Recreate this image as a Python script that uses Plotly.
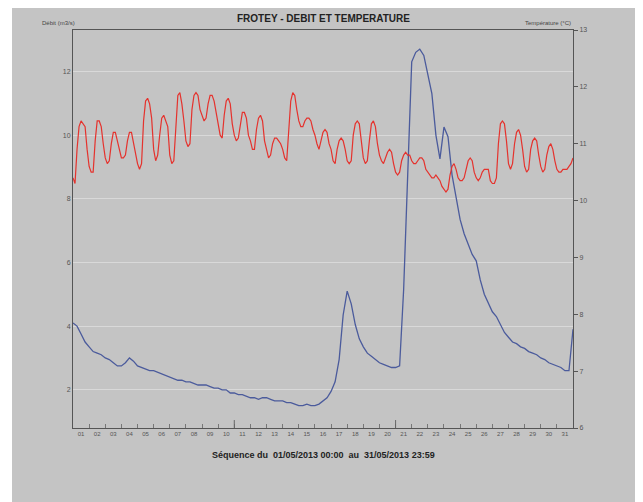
import plotly.graph_objects as go
import numpy as np

# Débit (m3/s), one value every 6 h from 01/05 00:00 to 01/06 00:00
debit = [
    4.1, 4.0, 3.75, 3.5,
    3.35, 3.2, 3.15, 3.1,
    3.0, 2.95, 2.85, 2.75,
    2.75, 2.85, 3.0, 2.9,
    2.75, 2.7, 2.65, 2.6,
    2.6, 2.55, 2.5, 2.45,
    2.4, 2.35, 2.3, 2.3,
    2.25, 2.25, 2.2, 2.15,
    2.15, 2.15, 2.1, 2.05,
    2.05, 2.0, 2.0, 1.9,
    1.9, 1.85, 1.85, 1.8,
    1.75, 1.75, 1.7, 1.75,
    1.75, 1.7, 1.65, 1.65,
    1.65, 1.6, 1.6, 1.55,
    1.5, 1.5, 1.55, 1.5,
    1.5, 1.55, 1.65, 1.75,
    1.95, 2.25, 2.95, 4.35,
    5.1, 4.7, 4.05, 3.6,
    3.35, 3.15, 3.05, 2.95,
    2.85, 2.8, 2.75, 2.7,
    2.7, 2.75, 5.15, 8.6,
    12.3, 12.6, 12.7, 12.5,
    11.9, 11.3, 10.0, 9.25,
    10.25, 9.95, 8.75, 8.0,
    7.35, 6.9, 6.55, 6.25,
    6.05, 5.45, 5.0, 4.7,
    4.45, 4.3, 4.05, 3.8,
    3.65, 3.5, 3.45, 3.35,
    3.3, 3.2, 3.15, 3.1,
    3.0, 2.95, 2.85, 2.8,
    2.75, 2.7, 2.6, 2.6,
    3.9,
]

# Température (°C), one value every 3 h
temperature = [
    10.4, 10.3, 10.9, 11.3, 11.4, 11.35, 11.3, 10.9,
    10.6, 10.5, 10.5, 11.05, 11.4, 11.4, 11.3, 11.0,
    10.75, 10.65, 10.7, 11.0, 11.2, 11.2, 11.05, 10.9,
    10.75, 10.75, 10.8, 11.05, 11.2, 11.2, 11.0, 10.85,
    10.65, 10.55, 10.65, 11.4, 11.75, 11.8, 11.7, 11.45,
    10.9, 10.7, 10.8, 11.15, 11.45, 11.5, 11.4, 11.3,
    10.8, 10.65, 10.7, 11.4, 11.85, 11.9, 11.7, 11.4,
    11.05, 10.95, 11.0, 11.6, 11.85, 11.9, 11.85, 11.6,
    11.5, 11.4, 11.45, 11.7, 11.85, 11.85, 11.75, 11.55,
    11.4, 11.15, 11.1, 11.5, 11.75, 11.8, 11.7, 11.35,
    11.15, 11.05, 11.1, 11.35, 11.55, 11.55, 11.45, 11.15,
    11.05, 10.9, 10.9, 11.25, 11.45, 11.5, 11.4, 11.05,
    10.9, 10.75, 10.8, 11.0, 11.1, 11.1, 11.05, 11.0,
    10.9, 10.75, 10.7, 11.25, 11.75, 11.9, 11.85, 11.6,
    11.4, 11.3, 11.3, 11.4, 11.45, 11.45, 11.4, 11.25,
    11.15, 11.0, 10.9, 11.05, 11.2, 11.25, 11.2, 11.0,
    10.9, 10.7, 10.65, 10.9, 11.05, 11.1, 11.05, 10.9,
    10.7, 10.65, 10.7, 11.15, 11.35, 11.4, 11.35, 11.05,
    10.75, 10.65, 10.7, 11.05, 11.35, 11.4, 11.3, 11.0,
    10.8, 10.7, 10.65, 10.75, 10.85, 10.9, 10.85, 10.65,
    10.5, 10.45, 10.5, 10.7, 10.8, 10.85, 10.8, 10.8,
    10.7, 10.65, 10.65, 10.7, 10.75, 10.75, 10.7, 10.55,
    10.5, 10.45, 10.4, 10.4, 10.45, 10.4, 10.35, 10.25,
    10.2, 10.15, 10.2, 10.45, 10.6, 10.65, 10.55, 10.4,
    10.35, 10.35, 10.4, 10.55, 10.7, 10.75, 10.7, 10.5,
    10.4, 10.35, 10.4, 10.5, 10.55, 10.55, 10.55, 10.35,
    10.3, 10.3, 10.4, 11.0, 11.35, 11.4, 11.35, 11.05,
    10.65, 10.55, 10.65, 11.0, 11.2, 11.25, 11.15, 10.9,
    10.6, 10.5, 10.55, 10.9, 11.05, 11.1, 11.05, 10.8,
    10.6, 10.5, 10.55, 10.8, 10.95, 11.0, 10.9, 10.7,
    10.55, 10.5, 10.5, 10.55, 10.55, 10.55, 10.6, 10.65,
    10.75,
]

days = [f"{d:02d}" for d in range(1, 32)]

t_debit = np.arange(len(debit)) * 6 / 24
t_temp = np.arange(len(temperature)) * 3 / 24

GRAY = "#c4c4c4"
TXT = "#333333"

fig = go.Figure()
fig.add_trace(go.Scatter(
    x=t_temp, y=temperature, yaxis="y2", mode="lines",
    line=dict(color="#e5322d", width=1.2), name="Température",
))
fig.add_trace(go.Scatter(
    x=t_debit, y=debit, mode="lines",
    line=dict(color="#4b5b9c", width=1.3), name="Débit",
))

# background panel
fig.add_shape(type="rect", xref="paper", yref="paper",
              x0=-0.122, x1=1.15, y0=-0.25, y1=1.068,
              fillcolor=GRAY, line_width=0, layer="below")

# longer ticks every 10 days
for d in [10, 20]:
    fig.add_shape(type="line", xref="x", yref="paper", x0=d, x1=d, y0=0, y1=0.02,
                  line=dict(color="#666666", width=1))

# page body adds 8 px, so the figure is a bit smaller than the window
fig.update_layout(
    width=635, height=494,
    margin=dict(l=65, r=70, t=22, b=74),
    paper_bgcolor="white",
    plot_bgcolor="white",
    showlegend=False,
    font=dict(family="Liberation Sans, Arial, sans-serif", color=TXT),
    xaxis=dict(
        range=[0, 31], tickvals=[i + 0.5 for i in range(31)], ticktext=days,
        ticks="", tickfont=dict(size=6, color="#555555"), showgrid=False,
        showline=True, linecolor="#555555", linewidth=1, mirror=True, zeroline=False,
        minor=dict(tickvals=list(range(1, 31)), ticks="inside", ticklen=4,
                   tickcolor="#777777", showgrid=False),
    ),
    yaxis=dict(
        range=[0.8, 13.3], dtick=2, tick0=0, ticks="", showgrid=True,
        gridcolor="#d9d9d9", tickfont=dict(size=7, color="#555555"),
        showline=True, linecolor="#555555", linewidth=1, zeroline=False,
    ),
    yaxis2=dict(
        range=[6, 13], dtick=1, overlaying="y", side="right", showgrid=False,
        ticks="outside", ticklen=4, tickcolor="#555555",
        tickfont=dict(size=7, color="#555555"),
        showline=True, linecolor="#555555", linewidth=1, zeroline=False,
    ),
    annotations=[
        dict(text="<b>FROTEY - DEBIT ET TEMPERATURE</b>", xref="paper", yref="paper",
             x=0.5, y=1.028, yanchor="middle", showarrow=False,
             font=dict(size=10, color="#222222")),
        dict(text="Débit (m3/s)", xref="paper", yref="paper", x=0.008, y=1.018,
             xanchor="right", yanchor="middle", showarrow=False,
             font=dict(size=6, color="#444444")),
        dict(text="Température (°C)", xref="paper", yref="paper", x=1.0, y=1.018,
             yanchor="middle", showarrow=False, font=dict(size=6, color="#444444")),
        dict(text="<b>Séquence du  01/05/2013 00:00  au  31/05/2013 23:59</b>",
             xref="paper", yref="paper", x=0.5, y=-0.068, yanchor="middle",
             showarrow=False, font=dict(size=9, color="#222222")),
    ],
)

fig.write_html("out.html")
